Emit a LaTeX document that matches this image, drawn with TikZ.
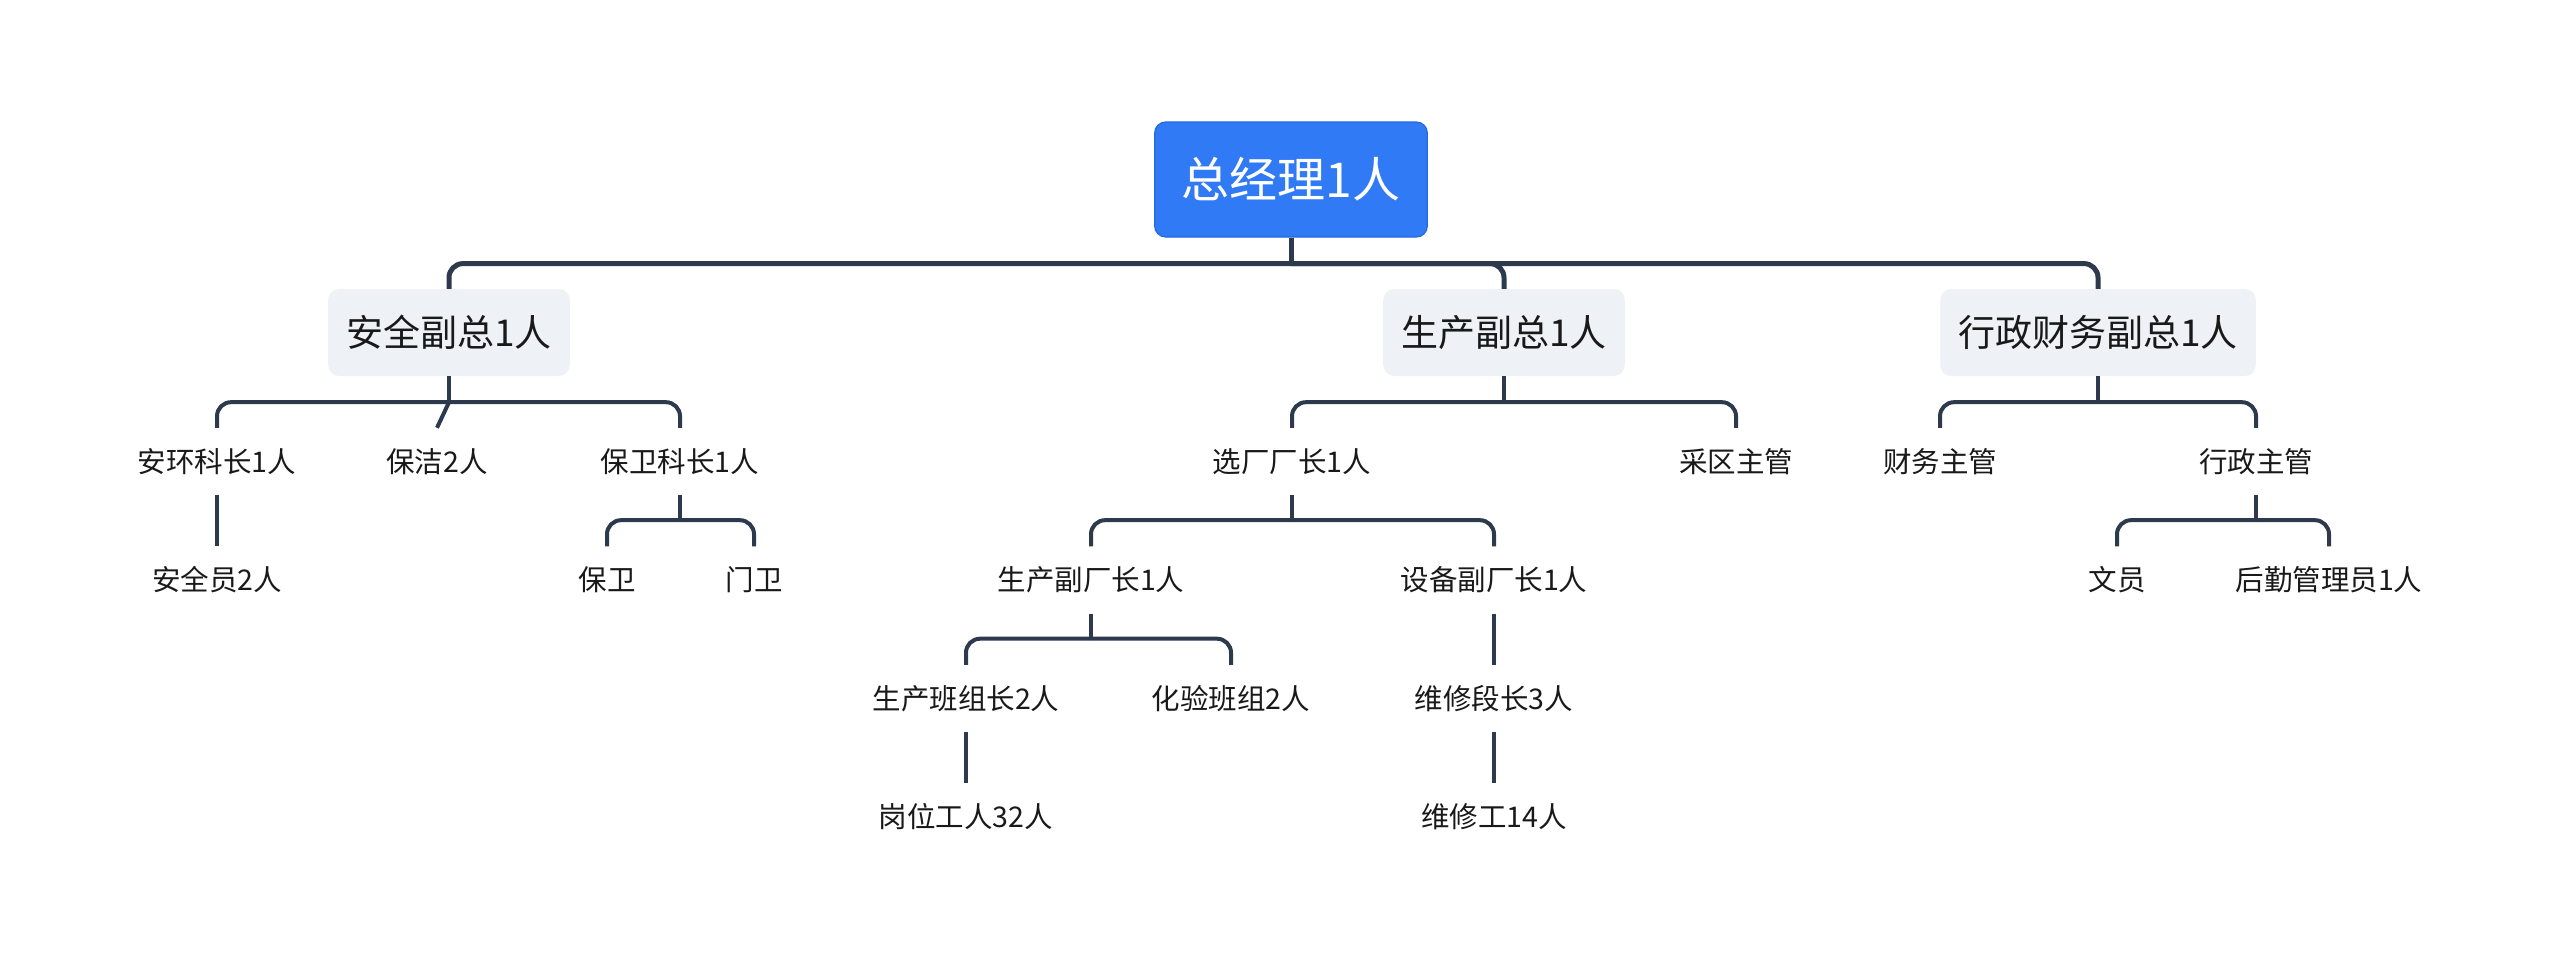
\documentclass[tikz,border=0pt]{standalone}
\usepackage{fontspec}
\setmainfont{Noto Sans CJK SC}
\definecolor{rootblue}{RGB}{48,122,246}
\definecolor{rootborder}{RGB}{38,104,222}
\definecolor{topicgray}{RGB}{238,241,245}
\definecolor{linecol}{RGB}{45,58,77}
\definecolor{textdark}{RGB}{25,25,25}
\tikzset{
  rootbox/.style={draw=rootborder, line width=1.2pt, fill=rootblue, rounded corners=11pt,
    minimum height=115pt, inner xsep=27pt, inner ysep=0pt, text=white,
    font=\fontsize{48}{58}\selectfont},
  topicbox/.style={fill=topicgray, rounded corners=11pt, minimum height=87pt,
    inner xsep=18pt, inner ysep=0pt, text=textdark, font=\fontsize{37}{44}\selectfont},
  leaf/.style={minimum height=67pt, inner xsep=0pt, inner ysep=0pt, text=textdark,
    font=\fontsize{28.5}{34}\selectfont},
  mainlink/.style={draw=linecol, line width=5pt, rounded corners=14pt},
  mainstem/.style={draw=linecol, line width=5pt},
  sublink/.style={draw=linecol, line width=4pt, rounded corners=14pt},
  substem/.style={draw=linecol, line width=4pt},
}
\begin{document}
\begin{tikzpicture}[x=1pt, y=-1pt]
\fill[white] (0,0) rectangle (2560,972);
\useasboundingbox (0,0) rectangle (2560,972);

% root and level 1
\node[rootbox] (root) at (1291,179.5) {总经理1人};
\node[topicbox] (t1) at (449,332.5) {安全副总1人};
\node[topicbox] (t2) at (1504,332.5) {生产副总1人};
\node[topicbox] (t3) at (2098,332.5) {行政财务副总1人};

% row A
\node[leaf] (a1) at (217,461.5) {安环科长1人};
\node[leaf] (a2) at (437,461.5) {保洁2人};
\node[leaf] (a3) at (680,461.5) {保卫科长1人};
\node[leaf] (a4) at (1292,461.5) {选厂厂长1人};
\node[leaf] (a5) at (1736,461.5) {采区主管};
\node[leaf] (a6) at (1940,461.5) {财务主管};
\node[leaf] (a7) at (2256,461.5) {行政主管};

% row B
\node[leaf] (b1) at (217,580) {安全员2人};
\node[leaf] (b2) at (607,580) {保卫};
\node[leaf] (b3) at (754,580) {门卫};
\node[leaf] (b4) at (1091,580) {生产副厂长1人};
\node[leaf] (b5) at (1494,580) {设备副厂长1人};
\node[leaf] (b6) at (2117,580) {文员};
\node[leaf] (b7) at (2329,580) {后勤管理员1人};

% row C
\node[leaf] (c1) at (966,698.5) {生产班组长2人};
\node[leaf] (c2) at (1231,698.5) {化验班组2人};
\node[leaf] (c3) at (1494,698.5) {维修段长3人};

% row D
\node[leaf] (d1) at (966,816.5) {岗位工人32人};
\node[leaf] (d2) at (1494,816.5) {维修工14人};

% junctions
\path (root.south) ++(0,26) coordinate (jr);
\path (t1.south) ++(0,26) coordinate (j1);
\path (t2.south) ++(0,26) coordinate (j2);
\path (t3.south) ++(0,26) coordinate (j3);
\path (a3.south) ++(0,25) coordinate (ja3);
\path (a4.south) ++(0,25) coordinate (ja4);
\path (a7.south) ++(0,25) coordinate (ja7);
\path (b4.south) ++(0,25) coordinate (jb4);

% root connectors
\draw[mainstem] (root.south) -- (jr);
\draw[mainlink] (jr) -| (t1.north);
\draw[mainlink] (jr) -| (t2.north);
\draw[mainlink] (jr) -| (t3.north);

% 安全副总
\draw[substem] (t1.south) -- (j1);
\draw[sublink] (j1) -| (a1.north);
\draw[substem] (j1) -- (a2.north);
\draw[sublink] (j1) -| (a3.north);
\draw[substem] (a1.south) -- (b1.north);
\draw[substem] (a3.south) -- (ja3);
\draw[sublink] (ja3) -| (b2.north);
\draw[sublink] (ja3) -| (b3.north);

% 生产副总
\draw[substem] (t2.south) -- (j2);
\draw[sublink] (j2) -| (a4.north);
\draw[sublink] (j2) -| (a5.north);
\draw[substem] (a4.south) -- (ja4);
\draw[sublink] (ja4) -| (b4.north);
\draw[sublink] (ja4) -| (b5.north);
\draw[substem] (b4.south) -- (jb4);
\draw[sublink] (jb4) -| (c1.north);
\draw[sublink] (jb4) -| (c2.north);
\draw[substem] (b5.south) -- (c3.north);
\draw[substem] (c1.south) -- (d1.north);
\draw[substem] (c3.south) -- (d2.north);

% 行政财务副总
\draw[substem] (t3.south) -- (j3);
\draw[sublink] (j3) -| (a6.north);
\draw[sublink] (j3) -| (a7.north);
\draw[substem] (a7.south) -- (ja7);
\draw[sublink] (ja7) -| (b6.north);
\draw[sublink] (ja7) -| (b7.north);
\end{tikzpicture}
\end{document}
